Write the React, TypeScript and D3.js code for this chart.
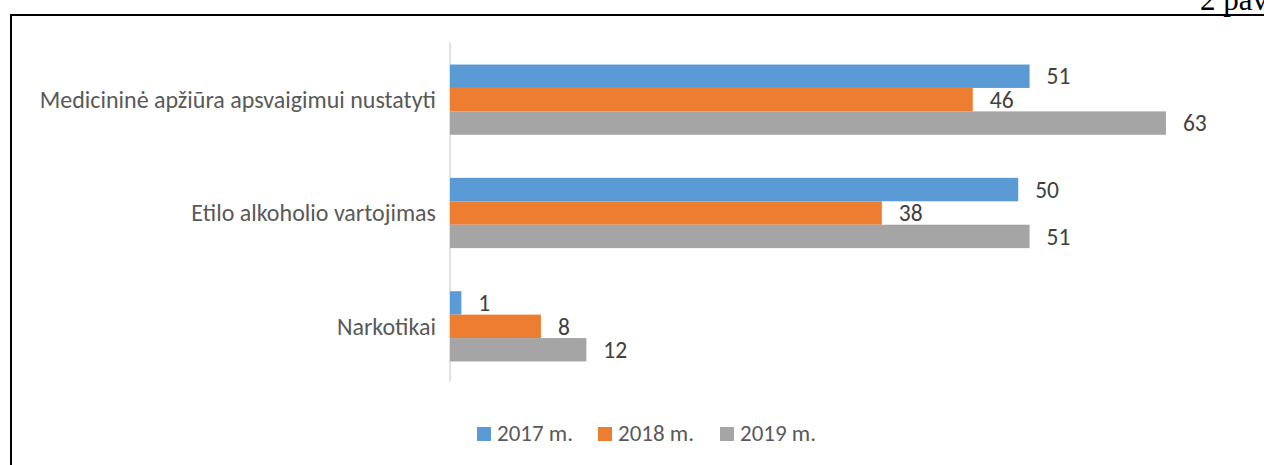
import React from "react";
import { scaleBand, scaleLinear } from "d3";

const width = 1264, height = 465

const categories = ["Medicininė apžiūra apsvaigimui nustatyti", "Etilo alkoholio vartojimas", "Narkotikai"]
const seriesNames = ["2017 m.", "2018 m.", "2019 m."]
const colors = ["#5b9bd5", "#ed7d31", "#a5a5a5"]
const v2017 = [51, 50, 1]
const v2018 = [46, 38, 8]
const v2019 = [63, 51, 12]
const values = [v2017, v2018, v2019]

const font = "Carlito, Lato, 'Open Sans', sans-serif"

const App = () => {
  const yScale = scaleBand()
    .domain(categories)
    .range([43, 383])
    .paddingInner(0.38)
    .paddingOuter(0.19)

  const inner = scaleBand()
    .domain(seriesNames)
    .range([0, yScale.bandwidth()])

  const xScale = scaleLinear()
    .domain([0, 70])
    .range([450, 1245.5])

  const legendX = [477, 598, 720]

  return <svg width={width} height={height} style={{ position: "absolute", left: 0, top: 0 }}>
    <rect x={0} y={0} width={width} height={height} fill="#fff" />
    {/* figure caption, cut off by the page edge as in the source */}
    <text x={1200} y={10} fontFamily="'Liberation Serif', 'Times New Roman', serif" fontSize={31} fill="#000">2 pav.</text>
    <path d={`M11,${height} V15 H${width}`} fill="none" stroke="#000" strokeWidth={2} />

    <line x1={450} x2={450} y1={42} y2={382} stroke="#d9d9d9" strokeWidth={1.5} />

    {categories.map((c, ci) => (
      <g key={c}>
        <text x={436} y={yScale(c)! + yScale.bandwidth() / 2} dy="0.35em" textAnchor="end"
          fontFamily={font} fontSize={24} fill="#595959">{c}</text>
        {seriesNames.map((s, si) => {
          const v = values[si][ci]
          const y = yScale(c)! + inner(s)!
          return <g key={s}>
            <rect x={xScale(0)} y={y} width={xScale(v) - xScale(0)} height={inner.bandwidth()} fill={colors[si]} />
            <text x={xScale(v) + 17} y={y + inner.bandwidth() / 2} dy="0.35em"
              fontFamily={font} fontSize={23.5} fill="#404040">{v}</text>
          </g>
        })}
      </g>
    ))}

    {seriesNames.map((s, si) => (
      <g key={s}>
        <rect x={legendX[si]} y={427} width={14} height={14} fill={colors[si]} />
        <text x={legendX[si] + 20} y={441} fontFamily={font} fontSize={23} fill="#595959">{s}</text>
      </g>
    ))}
  </svg>
}

export default App;
